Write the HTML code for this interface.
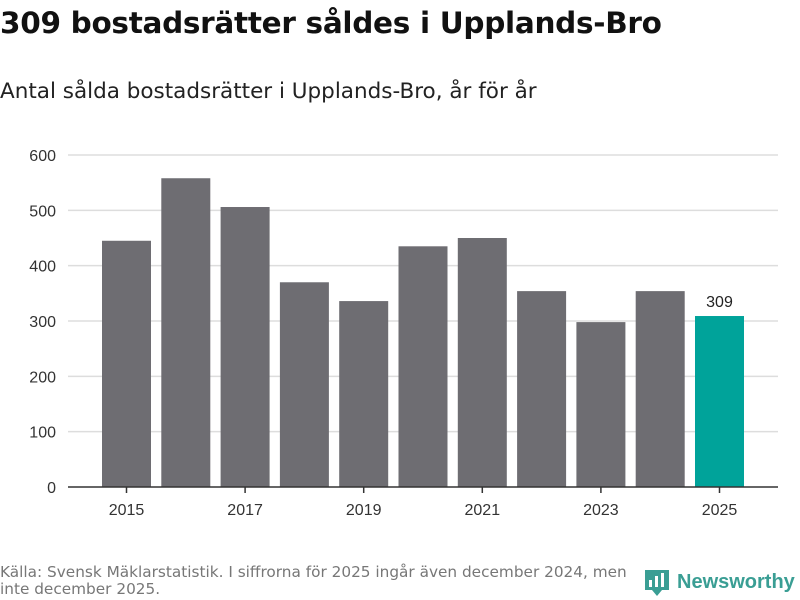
<!DOCTYPE html>
<html><head><meta charset="utf-8">
<style>
body{margin:0;width:800px;height:600px;background:#fff;font-family:"Liberation Sans","DejaVu Sans",sans-serif;overflow:hidden;position:relative}
#title{position:absolute;left:0;top:6px;font-family:"DejaVu Sans",sans-serif;font-size:29.5px;font-weight:bold;color:#111;letter-spacing:-0.3px}
#sub{position:absolute;left:0;top:79px;font-family:"DejaVu Sans",sans-serif;font-size:21.5px;color:#222}
#src{position:absolute;left:0;top:564px;font-family:"DejaVu Sans",sans-serif;font-size:15.3px;color:#777;line-height:17px;width:645px}
#logo{position:absolute;left:645px;top:568px;display:flex;align-items:center}
#logo span{font-size:20px;font-weight:bold;color:#3a9e94;margin-left:8px}
</style></head><body>
<div id="title">309 bostadsrätter såldes i Upplands-Bro</div>
<div id="sub">Antal sålda bostadsrätter i Upplands-Bro, år för år</div>
<svg id="chart" width="800" height="600" style="position:absolute;left:0;top:0"></svg>
<div id="src">Källa: Svensk Mäklarstatistik. I siffrorna för 2025 ingår även december 2024, men inte december 2025.</div>
<div id="logo">
<svg width="24" height="28"><path d="M0 2h24v20h-7l-5 6-5-6H0z" fill="#3a9e94"/><rect x="4" y="12" width="3" height="7" fill="#fff"/><rect x="10" y="8" width="3" height="11" fill="#fff"/><rect x="16" y="5" width="3" height="14" fill="#fff"/></svg>
<span>Newsworthy</span></div>
<script>
const years=[2015,2016,2017,2018,2019,2020,2021,2022,2023,2024,2025];
const values=[445,558,506,370,336,435,450,354,298,354,309];
const yTicks=[0,100,200,300,400,500,600];
const xTickLabels=["2015","2017","2019","2021","2023","2025"];
const svg=document.getElementById('chart');
const NS='http://www.w3.org/2000/svg';
const x0=68,x1=778,y0=487,y1=155,yMax=600;
const n=years.length,pad=34,step=(x1-x0-2*pad-49)/(n-1),bw=49;
const y=v=>y0-(v/yMax)*(y0-y1);
const xc=i=>x0+pad+bw/2+i*step;
function mk(t,a){const e=document.createElementNS(NS,t);for(const k in a)e.setAttribute(k,a[k]);svg.appendChild(e);return e;}
yTicks.forEach(t=>{
 if(t>0){const l=mk('line',{x1:x0,x2:x1,y1:y(t),y2:y(t),stroke:'#ddd','stroke-width':1.5});
 
 }
 const tx=mk('text',{x:56,y:y(t)+6,'text-anchor':'end','font-size':16,fill:'#333'});tx.textContent=t;
 
 
});
values.forEach((v,i)=>{
 const last=i===n-1;
 const r=mk('rect',{x:xc(i)-bw/2,y:y(v),width:bw,height:y0-y(v),fill:last?'#00a39a':'#6e6d72'});
 
 
 if(last){const t=mk('text',{x:xc(i),y:y(v)-9,'text-anchor':'middle','font-size':16,fill:'#222'});t.textContent=v;
 
 }
});
const ax=mk('line',{x1:x0,x2:x1,y1:y0,y2:y0,stroke:'#333','stroke-width':1.5});


xTickLabels.forEach(lab=>{
 const i=years.indexOf(+lab);
 const tk=mk('line',{x1:xc(i),x2:xc(i),y1:y0,y2:y0+6,stroke:'#333','stroke-width':1.5});
 
 
 const t=mk('text',{x:xc(i),y:y0+28,'text-anchor':'middle','font-size':16,fill:'#333'});t.textContent=lab;
 
 
});
</script>
</body></html>
